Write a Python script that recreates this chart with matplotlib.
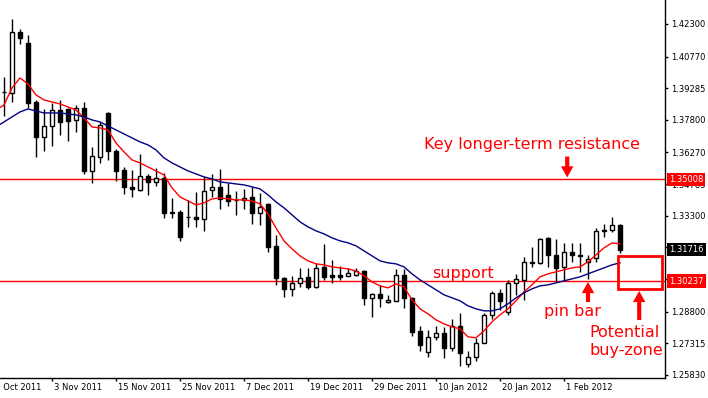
import numpy as np
import matplotlib.pyplot as plt
from matplotlib.patches import Rectangle
from matplotlib.transforms import blended_transform_factory

# daily candles, one per trading day (27 Oct 2011 .. 10 Feb 2012)
opens = [1.3911, 1.3906, 1.4193, 1.4141, 1.3864, 1.3700, 1.3752, 1.3827, 1.3831, 1.3780,
         1.3836, 1.3541, 1.3606, 1.3813, 1.3634, 1.3545, 1.3466, 1.3452, 1.3517, 1.3489,
         1.3508, 1.3348, 1.3348, 1.3325, 1.3325, 1.3315, 1.3452, 1.3466, 1.3428, 1.3405,
         1.3405, 1.3419, 1.3344, 1.3386, 1.3189, 1.3039, 1.2987, 1.3015, 1.3043, 1.2997,
         1.3090, 1.3053, 1.3053, 1.3048, 1.3053, 1.3072, 1.2945, 1.2964, 1.2926, 1.2931,
         1.3053, 1.2945, 1.2790, 1.2692, 1.2762, 1.2781, 1.2710, 1.2814, 1.2635, 1.2668,
         1.2734, 1.2865, 1.2968, 1.2879, 1.3015, 1.3029, 1.3114, 1.3109, 1.3226, 1.3147,
         1.3090, 1.3161, 1.3147, 1.3114, 1.3133, 1.3259, 1.3264, 1.3287]
highs = [1.3981, 1.4254, 1.4207, 1.4178, 1.3874, 1.3831, 1.3860, 1.3874, 1.3836, 1.3850,
         1.3864, 1.3653, 1.3770, 1.3815, 1.3644, 1.3559, 1.3545, 1.3620, 1.3527, 1.3555,
         1.3531, 1.3414, 1.3358, 1.3405, 1.3442, 1.3512, 1.3527, 1.3550, 1.3484, 1.3447,
         1.3456, 1.3466, 1.3437, 1.3391, 1.3240, 1.3043, 1.3048, 1.3086, 1.3086, 1.3109,
         1.3198, 1.3123, 1.3095, 1.3086, 1.3086, 1.3076, 1.2968, 1.3006, 1.2959, 1.3081,
         1.3081, 1.2950, 1.2814, 1.2795, 1.2814, 1.2809, 1.2846, 1.2875, 1.2696, 1.2757,
         1.2875, 1.2978, 1.2987, 1.3029, 1.3058, 1.3137, 1.3184, 1.3226, 1.3231, 1.3222,
         1.3203, 1.3203, 1.3203, 1.3147, 1.3273, 1.3292, 1.3325, 1.3292]
lows = [1.3799, 1.3864, 1.4136, 1.3836, 1.3606, 1.3634, 1.3658, 1.3709, 1.3681, 1.3724,
        1.3527, 1.3484, 1.3578, 1.3592, 1.3494, 1.3433, 1.3419, 1.3447, 1.3428, 1.3470,
        1.3320, 1.3320, 1.3212, 1.3278, 1.3278, 1.3259, 1.3419, 1.3362, 1.3376, 1.3334,
        1.3362, 1.3292, 1.3287, 1.3161, 1.3006, 1.2950, 1.2954, 1.2997, 1.2987, 1.2992,
        1.3029, 1.3015, 1.3029, 1.3046, 1.3046, 1.2912, 1.2856, 1.2903, 1.2922, 1.2930,
        1.2898, 1.2767, 1.2696, 1.2668, 1.2748, 1.2664, 1.2696, 1.2626, 1.2621, 1.2650,
        1.2732, 1.2846, 1.2889, 1.2865, 1.2959, 1.2936, 1.3090, 1.3104, 1.3090, 1.3020,
        1.3029, 1.3114, 1.3067, 1.3035, 1.3114, 1.3231, 1.3255, 1.3156]
closes = [1.3913, 1.4193, 1.4164, 1.3860, 1.3700, 1.3752, 1.3827, 1.3770, 1.3775, 1.3836,
          1.3541, 1.3611, 1.3756, 1.3634, 1.3541, 1.3466, 1.3456, 1.3517, 1.3489, 1.3508,
          1.3344, 1.3344, 1.3231, 1.3324, 1.3315, 1.3447, 1.3466, 1.3409, 1.3400, 1.3404,
          1.3414, 1.3344, 1.3372, 1.3184, 1.3039, 1.2987, 1.3015, 1.3039, 1.2997, 1.3086,
          1.3043, 1.3043, 1.3043, 1.3062, 1.3072, 1.2945, 1.2964, 1.2945, 1.2936, 1.3053,
          1.2945, 1.2786, 1.2725, 1.2762, 1.2781, 1.2710, 1.2814, 1.2687, 1.2668, 1.2734,
          1.2865, 1.2968, 1.2931, 1.3015, 1.3034, 1.3114, 1.3109, 1.3222, 1.3147, 1.3086,
          1.3161, 1.3147, 1.3142, 1.3128, 1.3259, 1.3261, 1.3287, 1.31716]

# moving averages, first value is one bar before the first candle
fast_ma = [1.38267, 1.38501, 1.39298, 1.39767, 1.39486, 1.38970, 1.38736, 1.38642, 1.38548, 1.38408,
           1.38267, 1.37891, 1.37469, 1.37422, 1.37329, 1.36719, 1.36297, 1.35922, 1.35781, 1.35593,
           1.35406, 1.35218, 1.34608, 1.34186, 1.33999, 1.33811, 1.33905, 1.34092, 1.34139, 1.34092,
           1.34046, 1.34046, 1.33999, 1.33858, 1.33389, 1.32732, 1.32123, 1.31747, 1.31419, 1.31185,
           1.31044, 1.30997, 1.30903, 1.30856, 1.30809, 1.30716, 1.30481, 1.30200, 1.30012, 1.29918,
           1.30106, 1.29965, 1.29356, 1.28933, 1.28699, 1.28418, 1.28230, 1.28089, 1.27996, 1.27620,
           1.27574, 1.27902, 1.28324, 1.28652, 1.28933, 1.29309, 1.29731, 1.30059, 1.30434, 1.30575,
           1.30669, 1.30763, 1.30856, 1.30903, 1.31138, 1.31466, 1.31795, 1.32029, 1.31982]
slow_ma = [1.37470, 1.37704, 1.37939, 1.38173, 1.38314, 1.38220, 1.38126, 1.38126, 1.38126, 1.38079,
           1.38033, 1.37939, 1.37798, 1.37704, 1.37517, 1.37329, 1.37141, 1.36954, 1.36766, 1.36626,
           1.36391, 1.36016, 1.35781, 1.35593, 1.35406, 1.35265, 1.35125, 1.35031, 1.34890, 1.34843,
           1.34796, 1.34750, 1.34656, 1.34562, 1.34281, 1.33952, 1.33671, 1.33343, 1.33014, 1.32780,
           1.32592, 1.32451, 1.32264, 1.32123, 1.32029, 1.31889, 1.31654, 1.31419, 1.31185, 1.31091,
           1.31044, 1.30903, 1.30575, 1.30294, 1.30059, 1.29825, 1.29591, 1.29450, 1.29309, 1.29075,
           1.28933, 1.28840, 1.28840, 1.28933, 1.29168, 1.29450, 1.29684, 1.29872, 1.30012, 1.30059,
           1.30153, 1.30247, 1.30341, 1.30435, 1.30575, 1.30716, 1.30856, 1.30998, 1.31091]

y_ticks = [1.42300, 1.40770, 1.39285, 1.37800, 1.36270, 1.34785, 1.33300,
           1.31815, 1.30330, 1.28800, 1.27315, 1.25830]
x_tick_pos = [-2, 6, 14, 22, 30, 38, 46, 54, 62, 70]
x_tick_labels = ['27 Oct 2011', '3 Nov 2011', '15 Nov 2011', '25 Nov 2011', '7 Dec 2011',
                 '19 Dec 2011', '29 Dec 2011', '10 Jan 2012', '20 Jan 2012', '1 Feb 2012']

resistance = 1.35008
support = 1.30237
buy_zone = (1.29872, 1.31419)

RED = '#ff0000'


def main():
    plt.rcParams['font.family'] = 'DejaVu Sans'
    fig = plt.figure(figsize=(7.08, 3.98), dpi=100)
    ax = fig.add_axes([0, 20 / 398, 665 / 708, 378 / 398])

    x = np.arange(len(opens))
    o = np.array(opens)
    c = np.array(closes)
    up = c >= o
    lo = np.minimum(o, c)
    hgt = np.abs(c - o)

    ax.vlines(x, lows, highs, color='black', lw=1, zorder=3)
    ax.bar(x[up], hgt[up], bottom=lo[up], width=0.62, color='white',
           edgecolor='black', lw=1, zorder=4)
    ax.bar(x[~up], hgt[~up], bottom=lo[~up], width=0.62, color='black',
           edgecolor='black', lw=1, zorder=4)

    ma_x = np.arange(-1, len(opens))
    ax.plot(ma_x, fast_ma, color=RED, lw=1, zorder=5)
    ax.plot(ma_x, slow_ma, color='#000080', lw=1, zorder=5)

    ax.axhline(resistance, color=RED, lw=1, zorder=2)
    ax.axhline(support, color=RED, lw=1, zorder=2)

    for s in ['top', 'left']:
        ax.spines[s].set_visible(False)
    ax.spines['right'].set_linewidth(1)
    ax.spines['bottom'].set_linewidth(1)

    ax.yaxis.tick_right()
    ax.set_yticks(y_ticks)
    ax.set_yticklabels([f'{v:.5f}' for v in y_ticks])
    ax.tick_params(axis='y', direction='out', length=2.5, width=1, labelsize=6, pad=2)

    ax.set_xticks(x_tick_pos)
    ax.set_xticklabels([])
    ax.tick_params(axis='x', direction='out', length=2.5, width=1)

    # limits after the ticks, so the off-screen first tick does not widen the view
    ax.set_xlim(-0.5, 82.625)
    ax.set_ylim(1.25688, 1.43426)

    for pos, lab in zip(x_tick_pos, x_tick_labels):
        ax.text(pos + 0.25, -0.012, lab, transform=blended_transform_factory(ax.transData, ax.transAxes),
                ha='left', va='top', fontsize=6, clip_on=False)

    # price boxes on the right axis
    bt = blended_transform_factory(ax.transAxes, ax.transData)
    for val, bg in [(resistance, RED), (support, RED), (closes[-1], 'black')]:
        ax.text(1.006, val, f'{val:.5f}', transform=bt, ha='left', va='center',
                fontsize=6, color='white', clip_on=False, zorder=10,
                bbox=dict(boxstyle='square,pad=0.25', fc=bg, ec='none'))

    # annotations
    ax.text(66.0, 1.36622, 'Key longer-term resistance', color=RED, fontsize=11.5,
            ha='center', va='center')
    ax.text(57.4, 1.30615, 'support', color=RED, fontsize=11.5, ha='center', va='center')
    ax.text(71.0, 1.28832, 'pin bar', color=RED, fontsize=11.5, ha='center', va='center')
    ax.text(77.6, 1.27800, 'Potential', color=RED, fontsize=11.5, ha='center', va='center')
    ax.text(77.8, 1.26998, 'buy-zone', color=RED, fontsize=11.5, ha='center', va='center')

    arrow = dict(arrowstyle='simple,head_width=0.9,head_length=0.8,tail_width=0.3',
                 color=RED, lw=0, shrinkA=0, shrinkB=0)
    ax.annotate('', xy=(70.4, 1.3510), xytext=(70.4, 1.3608), arrowprops=arrow)
    ax.annotate('', xy=(73.0, 1.30193), xytext=(73.0, 1.29255), arrowprops=arrow)
    ax.annotate('', xy=(79.4, 1.29771), xytext=(79.4, 1.28411), arrowprops=arrow)

    ax.add_patch(Rectangle((76.75, buy_zone[0]), 5.5, buy_zone[1] - buy_zone[0],
                           fill=False, ec=RED, lw=2, zorder=6))

    fig.savefig('out.png', dpi=100)


if __name__ == '__main__':
    main()
